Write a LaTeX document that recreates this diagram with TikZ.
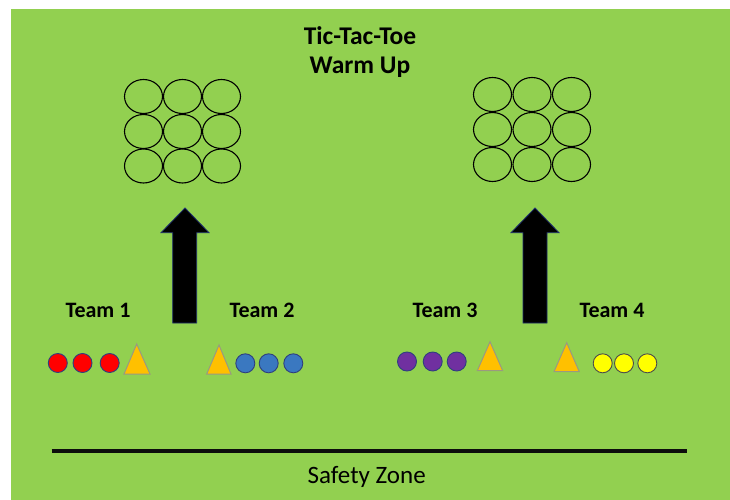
\documentclass[tikz,border=0pt]{standalone}
\usepackage{fontspec}
\setmainfont{Carlito}
\definecolor{field}{HTML}{92D050}
\definecolor{edgeblue}{HTML}{2F3F7F}
\definecolor{tri}{HTML}{FFC000}
\definecolor{trigray}{HTML}{9A9A80}
\definecolor{redp}{HTML}{FF0000}
\definecolor{bluep}{HTML}{3A78C0}
\definecolor{purplep}{HTML}{7030A0}
\definecolor{yellowp}{HTML}{FFFF00}
\definecolor{arrowedge}{HTML}{1F2F6F}
\tikzset{
  grid/.style={draw=black,line width=1.1pt,ellipse,minimum width=38pt,minimum height=34pt,inner sep=0pt},
  player/.style={circle,draw=edgeblue,line width=0.9pt,minimum size=19pt,inner sep=0pt},
  cone/.style={fill=tri,draw=trigray,line width=1pt,line join=miter},
  bigarrow/.style={fill=black,draw=arrowedge,line width=0.8pt},
  teamlabel/.style={font=\bfseries\fontsize{22}{26}\selectfont,anchor=base,inner sep=0pt},
  titlelabel/.style={font=\bfseries\fontsize{25.5}{30}\selectfont,anchor=base,inner sep=0pt}
}
\usetikzlibrary{shapes.geometric}
\begin{document}
\begin{tikzpicture}[x=1pt,y=-1pt]
\useasboundingbox (0,0) rectangle (730,500);
\fill[white] (0,0) rectangle (730,500);
\fill[field] (11,9) rectangle (730,500);
% title
\node[titlelabel] (t1) at (360,44.5) {Tic-Tac-Toe};
\node[titlelabel] (t2) at (360,74) {Warm Up};
% left grid
\foreach \i/\x in {1/143.5,2/182.5,3/221.5}
  \foreach \j/\y in {1/96.5,2/131.5,3/166}
    \node[grid] (L\i\j) at (\x,\y) {};
% right grid
\foreach \i/\x in {1/492.5,2/532,3/571.5}
  \foreach \j/\y in {1/94.5,2/129.5,3/164.5}
    \node[grid] (R\i\j) at (\x,\y) {};
% arrows
\draw[bigarrow] (172.7,323) -- (172.7,232.7) -- (161,232.7) -- (185,208) -- (209,232.7) -- (196.7,232.7) -- (196.7,323) -- cycle;
\draw[bigarrow] (523,323) -- (523,232.7) -- (511,232.7) -- (535,208) -- (559,232.7) -- (547,232.7) -- (547,323) -- cycle;
% team labels
\node[teamlabel] (team1) at (98,317) {Team 1};
\node[teamlabel] (team2) at (262,317) {Team 2};
\node[teamlabel] (team3) at (445,317) {Team 3};
\node[teamlabel] (team4) at (612,317) {Team 4};
% team 1
\node[player,fill=redp] (r1) at (57.8,363) {};
\node[player,fill=redp] (r2) at (82.5,363) {};
\node[player,fill=redp] (r3) at (109.7,363) {};
\draw[cone] (136.7,344) -- (150,374) -- (124,374) -- cycle;
% team 2
\draw[cone] (219,345) -- (231,374) -- (206.7,374) -- cycle;
\node[player,fill=bluep] (b1) at (245.3,363.3) {};
\node[player,fill=bluep] (b2) at (268.7,363.3) {};
\node[player,fill=bluep] (b3) at (293.3,363.3) {};
% team 3
\node[player,fill=purplep] (p1) at (407,361.5) {};
\node[player,fill=purplep] (p2) at (432.7,361.5) {};
\node[player,fill=purplep] (p3) at (456.7,361.5) {};
\draw[cone] (490,341.7) -- (502.7,370.7) -- (477.3,370.7) -- cycle;
% team 4
\draw[cone] (566.7,342.7) -- (579.3,371.7) -- (554,371.7) -- cycle;
\node[player,fill=yellowp,draw=black!70] (y1) at (602.7,363.3) {};
\node[player,fill=yellowp,draw=black!70] (y2) at (624,363.3) {};
\node[player,fill=yellowp,draw=black!70] (y3) at (647.3,363.3) {};
% safety line
\coordinate (s1) at (51.7,451);
\coordinate (s2) at (686.5,451);
\draw[line width=4pt,black!95] (s1) -- (s2);
\node[anchor=base,inner sep=0pt,font=\fontsize{25}{30}\selectfont] (sz) at (366.7,483.3) {Safety Zone};
\end{tikzpicture}
\end{document}
